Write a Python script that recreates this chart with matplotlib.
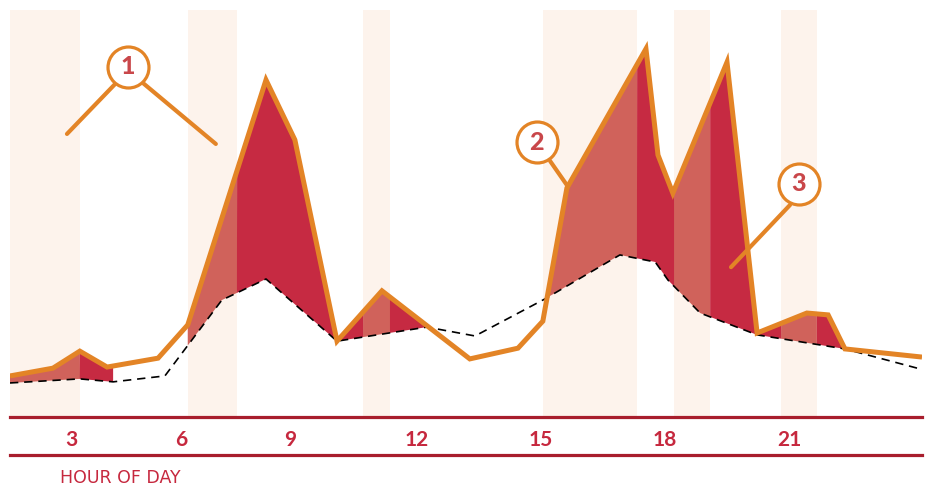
import numpy as np
import matplotlib
matplotlib.use("Agg")
import matplotlib.pyplot as plt
from matplotlib.lines import Line2D

# --- data (hour of day vs. activity level) ---
actual_hours = [1.73, 2.80, 3.47, 4.15, 5.42, 6.16, 8.11, 8.83, 9.88, 11.00, 13.19, 14.39,
                15.01, 15.61, 17.58, 17.88, 18.25, 19.60, 20.35, 21.59, 22.12, 22.54, 24.46]
actual_vals = [11.1, 13.2, 17.8, 13.5, 15.9, 24.9, 91.1, 74.9, 20.5, 34.1, 15.7, 18.6,
               25.9, 61.9, 99.5, 70.8, 60.5, 95.9, 22.7, 28.1, 27.6, 18.4, 16.2]

typical_hours = [1.73, 3.47, 4.30, 5.59, 7.01, 8.11, 9.88, 12.12, 13.32, 15.06, 16.93,
                 17.81, 18.13, 18.93, 20.35, 22.54, 24.41]
typical_vals = [9.2, 10.3, 9.5, 11.1, 31.6, 37.3, 20.5, 24.3, 21.9, 31.9, 43.8,
                41.9, 37.0, 28.1, 22.2, 18.4, 13.0]

# highlighted hour bands
band_start = [1.73, 6.16, 10.53, 15.01, 18.28, 20.95]
band_end = [3.47, 7.39, 11.20, 17.36, 19.18, 21.84]

# stretches where the gap above the typical line is shaded
gap_start = [1.73, 6.16, 15.01]
gap_end = [4.30, 12.12, 22.54]

tick_pos = [3.27, 5.99, 8.71, 11.87, 14.96, 18.05, 21.15]
tick_labels = ["3", "6", "9", "12", "15", "18", "21"]

# callouts: number, circle centre, line segments
callout_labels = ["1", "2", "3"]
callout_centres = [(4.67, 94.6), (14.86, 74.3), (21.39, 63.0)]
callout_lines = [
    [((4.35, 90.0), (3.15, 76.5)), ((5.04, 90.3), (6.86, 73.8))],
    [((15.19, 69.2), (15.64, 62.2))],
    [((21.17, 57.3), (19.70, 40.5))],
]

ORANGE = "#E38426"
DARK = "#C62A42"
LIGHT = "#D0625B"
BAND = "#FDF3EC"
AXIS_RED = "#A81E2D"
TEXT_RED = "#C6283E"

W, H = 929, 487
fig = plt.figure(figsize=(W / 100, H / 100), dpi=100)
ax = fig.add_axes([10 / W, 70 / H, 912 / W, 407 / H])
ax.set_xlim(1.73, 24.46)
ax.set_ylim(0, 110)

for a, b in zip(band_start, band_end):
    ax.fill_between([a, b], 0, 110, color=BAND, lw=0, zorder=0)

# fine grid for the shaded gap
x = np.union1d(np.linspace(1.73, 24.46, 4000),
               np.array(band_start + band_end + gap_start + gap_end + actual_hours + typical_hours))
o = np.interp(x, actual_hours, actual_vals)
d = np.interp(x, typical_hours, typical_vals)
in_gap = np.zeros_like(x, dtype=bool)
for a, b in zip(gap_start, gap_end):
    in_gap |= (x >= a) & (x <= b)
in_band = np.zeros_like(x, dtype=bool)
for a, b in zip(band_start, band_end):
    in_band |= (x >= a) & (x <= b)
on_edge = np.isin(x, np.array(band_start + band_end))
above = o >= d
ax.fill_between(x, d, o, where=above & in_gap & in_band, color=LIGHT, lw=0,
                interpolate=True, zorder=1)
ax.fill_between(x, d, o, where=above & in_gap & (~in_band | on_edge), color=DARK, lw=0,
                interpolate=True, zorder=1)

ax.plot(typical_hours, typical_vals, color="black", lw=1.2, dashes=(5, 3.5), zorder=2)
ax.plot(actual_hours, actual_vals, color=ORANGE, lw=3.6, solid_joinstyle="miter",
        solid_capstyle="butt", zorder=3)

# callouts
for lab, (cx, cy), segs in zip(callout_labels, callout_centres, callout_lines):
    for (x0, y0), (x1, y1) in segs:
        ax.plot([x0, x1], [y0, y1], color=ORANGE, lw=3.0, solid_capstyle="round", zorder=4)
    ax.plot(cx, cy, "o", ms=29.5, mfc="white", mec=ORANGE, mew=2.3, zorder=5)
    ax.text(cx, cy, lab, color="#C9474A", fontsize=18, fontweight="black", family="Lato",
            ha="center", va="center", zorder=6)

for s in ["top", "left", "right"]:
    ax.spines[s].set_visible(False)
ax.spines["bottom"].set_color(AXIS_RED)
ax.spines["bottom"].set_linewidth(2.3)
ax.set_yticks([])
ax.set_xticks(tick_pos, tick_labels)
ax.tick_params(axis="x", length=0, pad=9, labelsize=15, labelcolor=TEXT_RED)
for t in ax.get_xticklabels():
    t.set_fontweight("bold")
    t.set_family("Lato")

fig.add_artist(Line2D([10 / W, 922 / W], [1 - 455 / H] * 2, color=AXIS_RED, lw=2.3))
fig.text(60 / W, 1 - 478 / H, "HOUR OF DAY", color=TEXT_RED, fontsize=12.5,
         family="DejaVu Sans", ha="left", va="center")

fig.savefig("out.png", dpi=100)
